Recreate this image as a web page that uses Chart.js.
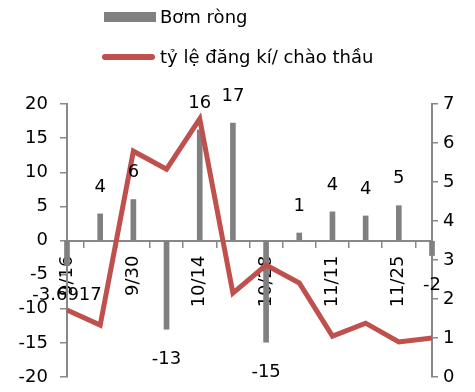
<!DOCTYPE html>
<html>
<head>
<meta charset="utf-8">
<script src="https://cdn.jsdelivr.net/npm/chart.js@4/dist/chart.umd.min.js"></script>
<style>
  body { margin: 0; background: #fff; }
  #wrap { position: relative; width: 475px; height: 392px; font-family: "DejaVu Sans", sans-serif; }
  #myChart { position: absolute; left: 0; top: 0; }
  .lg { position: absolute; left: 160px; font-size: 18px; color: #000; line-height: 22px; white-space: nowrap; }
  .sw-bar { position: absolute; left: 104px; top: 12px; width: 52px; height: 10px; background: #808080; }
  .sw-line { position: absolute; left: 102px; top: 54px; width: 53px; height: 6px; border-radius: 3px; background: #C0504D; }
</style>
</head>
<body>
<div id="wrap">
  <canvas id="myChart" width="475" height="392"></canvas>
  <div class="sw-bar"></div>
  <div class="lg" style="top:6px">Bơm ròng</div>
  <div class="sw-line"></div>
  <div class="lg" style="top:46px">tỷ lệ đăng kí/ chào thầu</div>
</div>
<script>
// du lieu
var weeks = ['9/16', '9/23', '9/30', '10/7', '10/14', '10/21', '10/28', '11/4', '11/11', '11/18', '11/25', '12/2'];
var netPump = [-3.69, 3.9, 6, -13, 16.2, 17.2, -14.9, 1.1, 4.2, 3.6, 5.1, -2.2];
var pumpLabels = ['-3.6917', '4', '6', '-13', '16', '17', '-15', '1', '4', '4', '5', '-2'];
var bidRatio = [1.72, 1.33, 5.79, 5.33, 6.62, 2.15, 2.87, 2.41, 1.05, 1.38, 0.9, 1.0];
var leftTicks = [-20, 20, 5];
var rightTicks = [0, 7, 1];

var axisGray = '#888888';
var font18 = { family: 'DejaVu Sans', size: 18 };

// nhan so tren cot
var barLabels = {
    id: 'barLabels',
    afterDatasetsDraw: function(chart) {
        var meta = chart.getDatasetMeta(1);
        var ctx = chart.ctx;
        ctx.save();
        ctx.font = '18px "DejaVu Sans"';
        ctx.fillStyle = '#000';
        ctx.textAlign = 'center';
        ctx.textBaseline = 'middle';
        meta.data.forEach(function(bar, i) {
            var y = netPump[i] >= 0 ? bar.y - 27 : bar.y + 30;
            ctx.fillText(pumpLabels[i], bar.x, y);
        });
        ctx.restore();
    }
};

// truc y: bo padding tu nhan de vung ve dung kich thuoc
function fixAxis(w) {
    return function(scale) {
        scale.width = w;
        scale.paddingTop = 0;
        scale.paddingBottom = 0;
    };
}

var ctx = document.getElementById('myChart').getContext('2d');
var myChart = new Chart(ctx, {
    type: 'bar',
    data: {
        labels: weeks,
        datasets: [{
            type: 'line',
            label: 'tỷ lệ đăng kí/ chào thầu',
            data: bidRatio,
            yAxisID: 'y1',
            borderColor: '#C0504D',
            backgroundColor: '#C0504D',
            borderWidth: 5,
            pointRadius: 0,
            tension: 0,
            clip: false,
            order: 0
        }, {
            type: 'bar',
            label: 'Bơm ròng',
            data: netPump,
            yAxisID: 'y',
            backgroundColor: '#808080',
            barThickness: 5,
            clip: false,
            order: 1
        }]
    },
    plugins: [barLabels],
    options: {
        responsive: false,
        animation: false,
        devicePixelRatio: 1,
        layout: { padding: { top: 104, bottom: 15, left: 0, right: 0 } },
        plugins: {
            legend: { display: false },
            tooltip: { enabled: false }
        },
        scales: {
            x: {
                type: 'category',
                offset: false,
                position: { y: 0 },
                grid: { drawOnChartArea: false, tickLength: 6, color: axisGray, lineWidth: 1.5 },
                border: { color: axisGray, width: 2 },
                ticks: {
                    autoSkip: false,
                    maxRotation: 90,
                    minRotation: 90,
                    padding: 9,
                    color: '#000',
                    font: font18,
                    callback: function(val, index) {
                        return index % 2 === 0 ? weeks[index] : '';
                    }
                }
            },
            y: {
                position: 'left',
                min: leftTicks[0],
                max: leftTicks[1],
                grid: { drawOnChartArea: false, tickLength: 7, color: axisGray, lineWidth: 1.5 },
                border: { color: axisGray, width: 2 },
                ticks: { stepSize: leftTicks[2], padding: 12, color: '#000', font: font18 },
                afterFit: fixAxis(67)
            },
            y1: {
                position: 'right',
                min: rightTicks[0],
                max: rightTicks[1],
                grid: { drawOnChartArea: false, tickLength: 6, color: axisGray, lineWidth: 1.5 },
                border: { color: axisGray, width: 2 },
                ticks: { stepSize: rightTicks[2], padding: 5, color: '#000', font: font18 },
                afterFit: fixAxis(43)
            }
        }
    }
});
</script>
</body>
</html>
